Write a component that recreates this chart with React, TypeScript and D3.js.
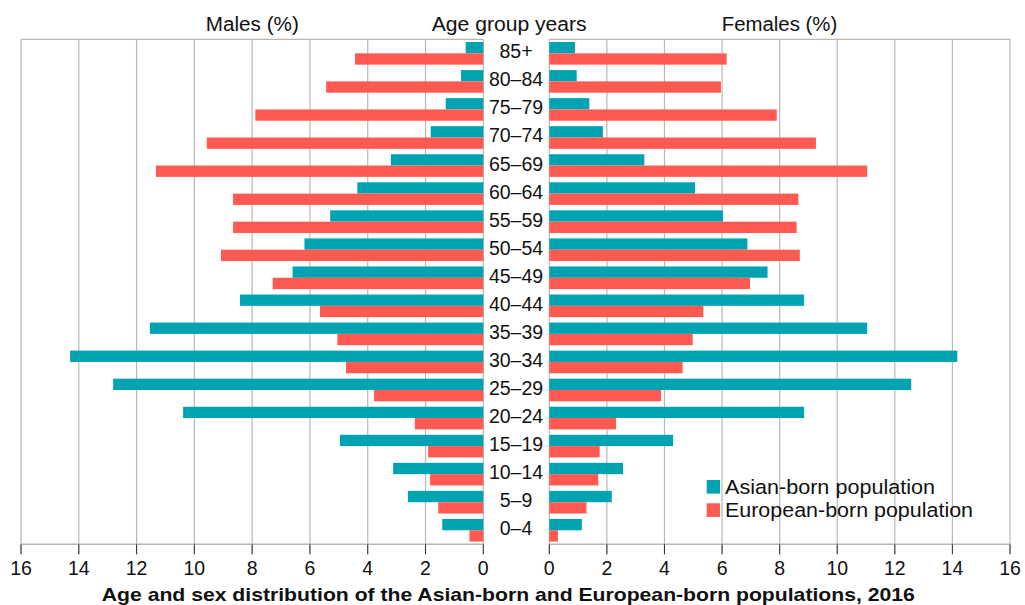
import React from "react";
import * as d3 from "d3";

const ageGroups = ["85+", "80–84", "75–79", "70–74", "65–69", "60–64", "55–59", "50–54", "45–49", "40–44", "35–39", "30–34", "25–29", "20–24", "15–19", "10–14", "5–9", "0–4"];
const maleAsian = [0.61, 0.77, 1.3, 1.82, 3.2, 4.36, 5.3, 6.19, 6.6, 8.42, 11.54, 14.3, 12.81, 10.39, 4.96, 3.12, 2.61, 1.42];
const maleEuropean = [4.44, 5.44, 7.89, 9.57, 11.33, 8.66, 8.66, 9.08, 7.29, 5.65, 5.05, 4.75, 3.78, 2.37, 1.91, 1.84, 1.56, 0.48];
const femaleAsian = [0.89, 0.95, 1.39, 1.86, 3.3, 5.06, 6.03, 6.88, 7.58, 8.85, 11.04, 14.17, 12.57, 8.85, 4.3, 2.56, 2.17, 1.13];
const femaleEuropean = [6.16, 5.96, 7.9, 9.26, 11.04, 8.65, 8.59, 8.7, 6.97, 5.35, 4.98, 4.63, 3.88, 2.32, 1.75, 1.7, 1.29, 0.3];
const xTicks = [0, 2, 4, 6, 8, 10, 12, 14, 16];
const seriesNames = ["Asian-born population", "European-born population"];

const TEAL = "#00A3B2";
const RED = "#FF5A52";
const GRID = "#bcb8b0";
const FONT = "'Liberation Sans', Arial, Helvetica, sans-serif";

export default function App() {
  const W = 1025, H = 605;
  const top = 39.3, bottom = 544.3;
  const xL = d3.scaleLinear().domain([0, 16]).range([483.3, 21]);
  const xR = d3.scaleLinear().domain([0, 16]).range([549.3, 1010]);
  const y = d3.scaleBand<string>().domain(ageGroups).range([top, bottom]).padding(0);
  const sub = d3.scaleBand<string>().domain(["a", "e"]).range([0, y.step()]).paddingInner(0).paddingOuter(0.24);
  const bh = sub.bandwidth();
  const labelX = 516;

  const panel = (x: d3.ScaleLinear<number, number>, asian: number[], euro: number[], key: string) => (
    <g key={key}>
      {xTicks.map((t) => (
        <line key={"g" + t} x1={x(t)} x2={x(t)} y1={top} y2={bottom + 10} stroke={GRID} strokeWidth={1.2} />
      ))}
      <line x1={x(0)} x2={x(16)} y1={top} y2={top} stroke={GRID} strokeWidth={1.2} />
      {ageGroups.map((a, i) => {
        const y0 = y(a)!;
        const xa = x(asian[i]);
        const xe = x(euro[i]);
        const x0 = x(0);
        return (
          <g key={a}>
            <rect x={Math.min(x0, xa)} y={y0 + sub("a")!} width={Math.abs(xa - x0)} height={bh} fill={TEAL} />
            <rect x={Math.min(x0, xe)} y={y0 + sub("e")!} width={Math.abs(xe - x0)} height={bh} fill={RED} />
          </g>
        );
      })}
      <line x1={x(0)} x2={x(16)} y1={bottom} y2={bottom} stroke={GRID} strokeWidth={1.6} />
      {xTicks.map((t) => (
        <line key={"tk" + t} x1={x(t)} x2={x(t)} y1={bottom} y2={bottom + 10} stroke="#333" strokeWidth={1} />
      ))}
      {xTicks.map((t) => (
        <text key={"tl" + t} x={x(t)} y={575} textAnchor="middle" fontSize={19.5} fill="#111">
          {t}
        </text>
      ))}
    </g>
  );

  return (
    <svg width={W} height={H} style={{ position: "absolute", left: 0, top: 0, background: "#fff" }} fontFamily={FONT}>
      <rect x={0} y={0} width={W} height={H} fill="#fff" />
      {panel(xL, maleAsian, maleEuropean, "m")}
      {panel(xR, femaleAsian, femaleEuropean, "f")}
      {ageGroups.map((a) => (
        <text key={a} x={labelX} y={y(a)! + y.step() / 2 + 5} textAnchor="middle" fontSize={19.5} fill="#111">
          {a}
        </text>
      ))}
      <text x={252.3} y={31} textAnchor="middle" fontSize={20} fill="#111" textLength={93} lengthAdjust="spacingAndGlyphs">Males (%)</text>
      <text x={509.2} y={31} textAnchor="middle" fontSize={20} fill="#111" textLength={155} lengthAdjust="spacingAndGlyphs">Age group years</text>
      <text x={779.5} y={31} textAnchor="middle" fontSize={20} fill="#111" textLength={115.6} lengthAdjust="spacingAndGlyphs">Females (%)</text>
      {seriesNames.map((s, i) => (
        <g key={s}>
          <rect x={706.7} y={480 + i * 23.3} width={13.3} height={13.6} fill={i === 0 ? TEAL : RED} />
          <text x={725} y={493.5 + i * 23} fontSize={20.5} fill="#111" textLength={i === 0 ? 210 : 248} lengthAdjust="spacingAndGlyphs">{s}</text>
        </g>
      ))}
      <text x={508.3} y={600.5} textAnchor="middle" fontSize={18.5} fontWeight="bold" fill="#111" textLength={813} lengthAdjust="spacingAndGlyphs">
        Age and sex distribution of the Asian-born and European-born populations, 2016
      </text>
    </svg>
  );
}
